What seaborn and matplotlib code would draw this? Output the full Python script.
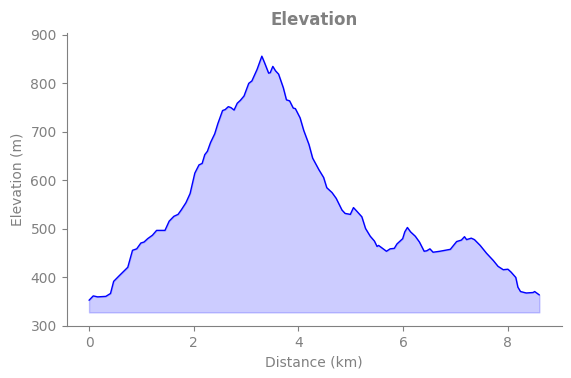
import numpy as np
import pandas as pd
import matplotlib
matplotlib.use("Agg")
import matplotlib.pyplot as plt
import seaborn as sns

# Perfil de elevacion
distancia_km = [0.00, 0.08, 0.165, 0.32, 0.41, 0.47, 0.58, 0.74, 0.83, 0.91, 0.99, 1.05,
                1.12, 1.21, 1.29, 1.45, 1.53, 1.62, 1.70, 1.76, 1.85, 1.93, 2.02, 2.10,
                2.16, 2.21, 2.26, 2.32, 2.40, 2.46, 2.55, 2.60, 2.66, 2.71, 2.77, 2.83,
                2.89, 2.96, 3.05, 3.11, 3.21, 3.30, 3.35, 3.43, 3.46, 3.51, 3.56, 3.62,
                3.71, 3.77, 3.83, 3.90, 3.94, 4.03, 4.10, 4.20, 4.27, 4.39, 4.48, 4.54,
                4.64, 4.72, 4.83, 4.89, 4.99, 5.05, 5.11, 5.21, 5.28, 5.37, 5.45, 5.50,
                5.53, 5.58, 5.68, 5.75, 5.83, 5.88, 5.99, 6.03, 6.08, 6.14, 6.23, 6.31,
                6.40, 6.45, 6.51, 6.57, 6.70, 6.90, 6.96, 7.02, 7.11, 7.17, 7.21, 7.30,
                7.36, 7.47, 7.59, 7.72, 7.81, 7.91, 8.00, 8.06, 8.15, 8.19, 8.24, 8.35,
                8.48, 8.51, 8.60]
elevacion_m = [353, 362, 360, 361, 367, 392, 404, 421, 456, 459, 471, 473,
               480, 487, 497, 497, 516, 526, 530, 539, 554, 573, 615, 632,
               635, 653, 660, 678, 696, 717, 744, 746, 752, 750, 745, 759,
               765, 774, 800, 805, 829, 856, 843, 821, 822, 835, 826, 819,
               791, 766, 764, 749, 748, 729, 703, 674, 646, 622, 606, 585,
               575, 563, 539, 532, 530, 544, 537, 525, 501, 485, 475, 464,
               466, 462, 454, 459, 460, 469, 480, 494, 503, 494, 485, 473,
               454, 455, 459, 452, 454, 458, 466, 474, 477, 484, 478, 481,
               478, 466, 450, 435, 423, 416, 417, 411, 400, 380, 371, 368,
               369, 371, 364]
base_relleno = 328

df = pd.DataFrame({"Distancia": distancia_km, "Elevacion": elevacion_m})

gris = "#808080"
sns.set_style("ticks")
plt.rcParams["font.family"] = ["DejaVu Sans"]

fig, ax = plt.subplots(figsize=(5.71, 3.78), dpi=100)
fig.subplots_adjust(left=0.1165, right=0.984, bottom=0.1376, top=0.913)

sns.lineplot(data=df, x="Distancia", y="Elevacion", color="blue", lw=1, ax=ax)
ax.fill_between(df["Distancia"], base_relleno, df["Elevacion"], color="blue", alpha=0.2)

ax.set_ylim(300, 904)
ax.set_xticks([0, 2, 4, 6, 8])
ax.set_yticks([300, 400, 500, 600, 700, 800, 900])
ax.set_title("Elevation", color=gris, fontsize=12, fontweight="bold")
ax.set_xlabel("Distance (km)", color=gris, fontsize=10)
ax.set_ylabel("Elevation (m)", color=gris, fontsize=10)
ax.tick_params(colors=gris, labelcolor=gris, labelsize=10)
for s in ["left", "bottom"]:
    ax.spines[s].set_color(gris)
sns.despine(ax=ax)

fig.savefig("out.png", dpi=100)
